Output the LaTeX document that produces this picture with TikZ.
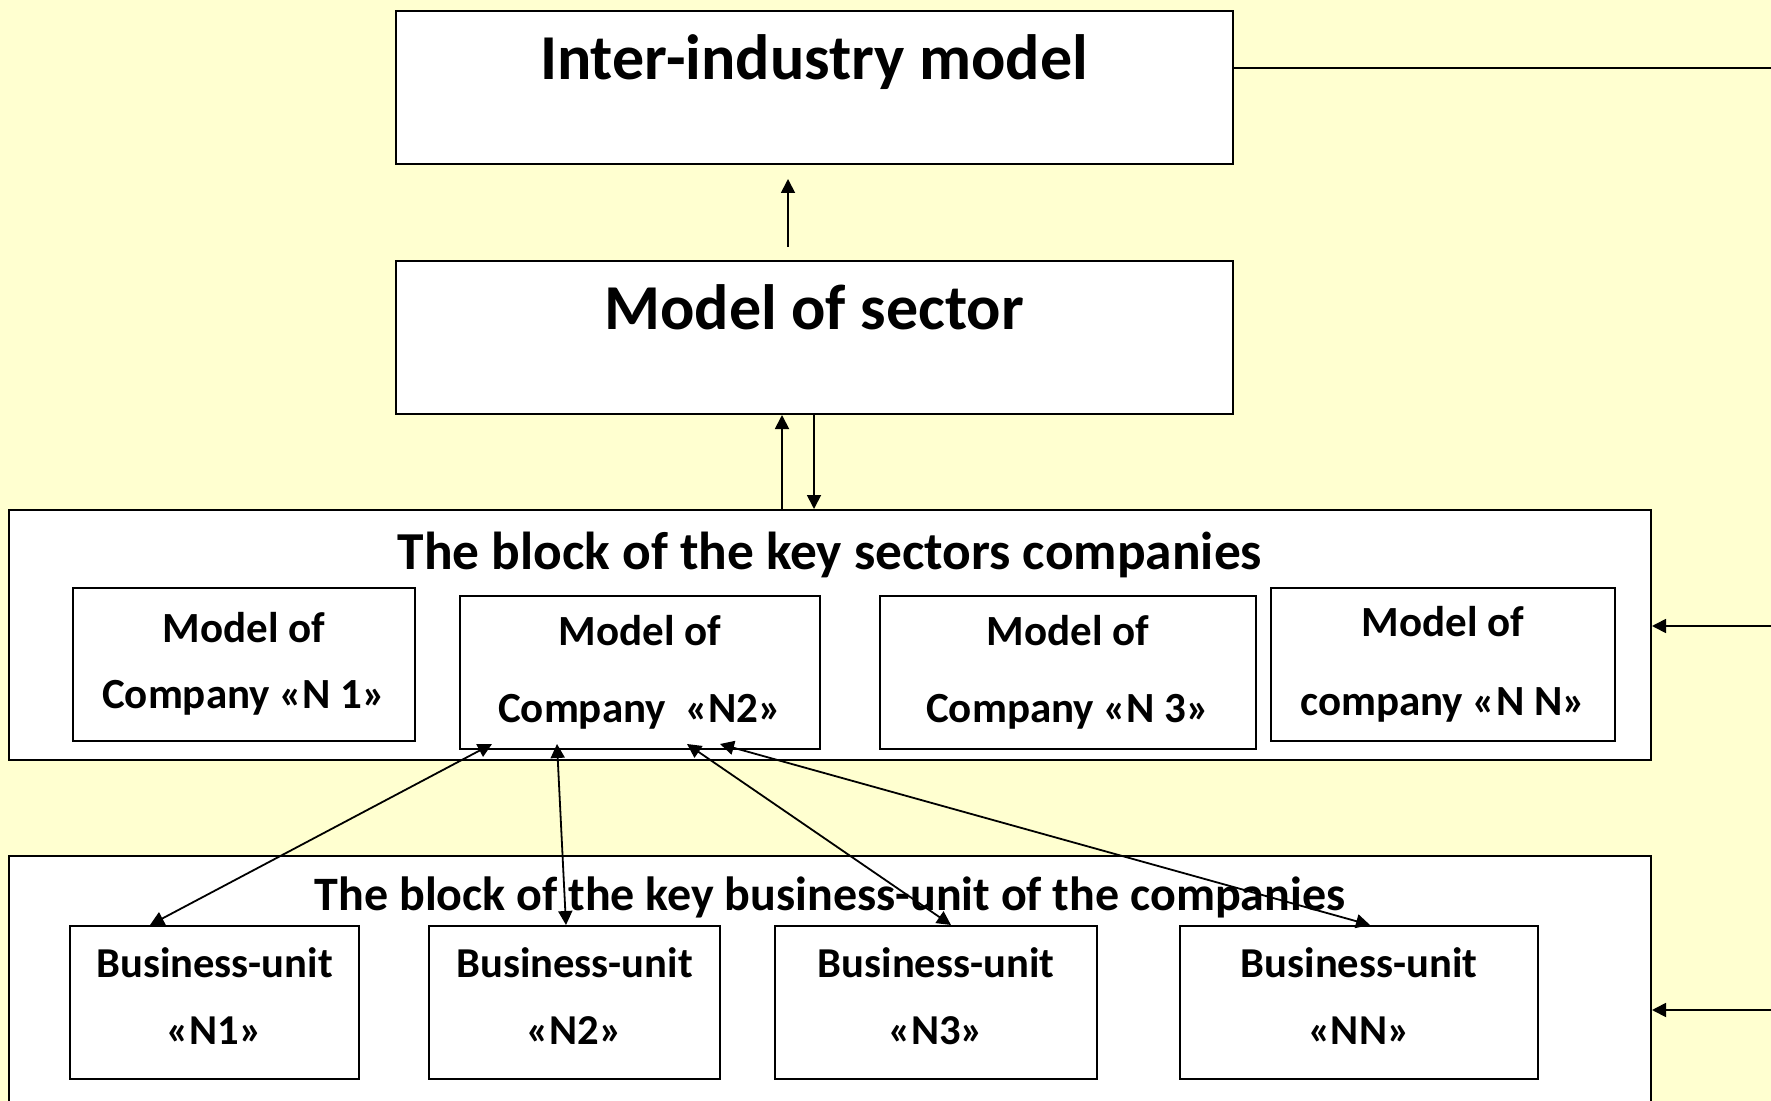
\documentclass[tikz,border=0pt]{standalone}
\usepackage{fontspec}
\setmainfont{Carlito}
\usepackage{tikz, xcolor}
\usetikzlibrary{shapes,arrows.meta}
\definecolor{paleyellow}{RGB}{255,255,208}

\begin{document}
\begin{tikzpicture}[x=0.5pt, y=-0.5pt, >={Triangle[length=7pt,width=7pt]}]
\tikzstyle{bigbox}=[rectangle, draw, fill=white, line width=1pt, inner sep=0pt, minimum width=418.5pt, text height=34.5pt, text depth=42pt, font=\fontsize{32}{38}\selectfont\bfseries]
\tikzstyle{blockbox}=[rectangle, draw, fill=white, line width=1pt, inner sep=0pt, minimum width=821pt]
\tikzstyle{compbox}=[rectangle, draw, fill=white, line width=1pt, inner sep=0pt, align=center, minimum height=76.5pt, font=\fontsize{21.5}{38.5}\selectfont\bfseries]
\tikzstyle{unitbox}=[rectangle, draw, fill=white, line width=1pt, inner sep=0pt, align=center, minimum height=76.5pt, font=\fontsize{21.3}{33.5}\selectfont\bfseries]
\tikzstyle{drawstyle}=[line width=0.9pt, ->]
\tikzstyle{twoway}=[line width=0.9pt, <->]

\path[use as bounding box] (0,0) rectangle (1771,1101);
\clip (0,0) rectangle (1771,1101);
\fill[paleyellow] (0,0) rectangle (1771,1101);

\node[bigbox] (G0x0) at (814,87.5) {Inter-industry model};
\node[bigbox] (G0x1) at (814,337.5) {Model of sector};

\node[blockbox, text height=29.5pt, text depth=95.5pt, font=\fontsize{26.7}{32}\selectfont\bfseries] (G0x2) at (830,635) {The block of the key sectors companies};
\node[compbox, minimum width=171pt, font=\fontsize{21.5}{33}\selectfont\bfseries] (G1x2) at (244,664) {Model of\\Company «N 1»};
\node[compbox, minimum width=180pt] (G2x2) at (640,672.5) {Model of\\Company ~«N2»};
\node[compbox, minimum width=188pt] (G3x2) at (1068,672.5) {Model of\\Company «N 3»};
\node[compbox, minimum width=172pt, font=\fontsize{21.5}{39.5}\selectfont\bfseries] (G4x2) at (1443,664) {Model of\\company «N N»};

\node[blockbox, text height=27pt, text depth=110pt, font=\fontsize{24}{29}\selectfont\bfseries] (G0x3) at (830,993) {The block of the key business-unit of the companies};
\node[unitbox, minimum width=144.5pt] (G1x3) at (214.5,1002.5) {Business-unit\\«N1»\rule[-6pt]{0pt}{6pt}};
\node[unitbox, minimum width=145.5pt] (G2x3) at (574.5,1002.5) {Business-unit\\«N2»\rule[-6pt]{0pt}{6pt}};
\node[unitbox, minimum width=161pt] (G3x3) at (936,1002.5) {Business-unit\\«N3»\rule[-6pt]{0pt}{6pt}};
\node[unitbox, minimum width=179pt] (G4x3) at (1359,1002.5) {Business-unit\\«NN»\rule[-6pt]{0pt}{6pt}};

% outside links
\coordinate (R0) at (1771,68);
\coordinate (R1) at (1771,626);
\coordinate (R2) at (1771,1010);
\draw[line width=1pt] (R0 -| G0x0.east) -- (R0);
\draw[drawstyle] (R1) -- (R1 -| G0x2.east);
\draw[drawstyle] (R2) -- (R2 -| G0x3.east);

% upward chain
\draw[drawstyle, shorten <=6.5pt, shorten >=7pt] ([xshift=-13pt]G0x1.north) -- ([xshift=-13pt]G0x0.south);
\draw[drawstyle] ([xshift=-24pt]G0x2.north) -- ([xshift=-16pt]G0x1.south);
\draw[drawstyle] (G0x1.south) -- ([xshift=-8pt]G0x2.north);

% company N2 and its business-units
\draw[twoway] ([xshift=-74pt,yshift=3pt]G2x2.south) -- ([xshift=-32.25pt]G1x3.north);
\draw[twoway] ([xshift=-41.5pt,yshift=3pt]G2x2.south) -- ([xshift=-4.25pt]G2x3.north);
\draw[twoway] ([xshift=23.5pt,yshift=3pt]G2x2.south) -- ([xshift=7.5pt]G3x3.north);
\draw[twoway] ([xshift=40pt,yshift=3pt]G2x2.south) -- ([xshift=5.5pt]G4x3.north);
\end{tikzpicture}
\end{document}
